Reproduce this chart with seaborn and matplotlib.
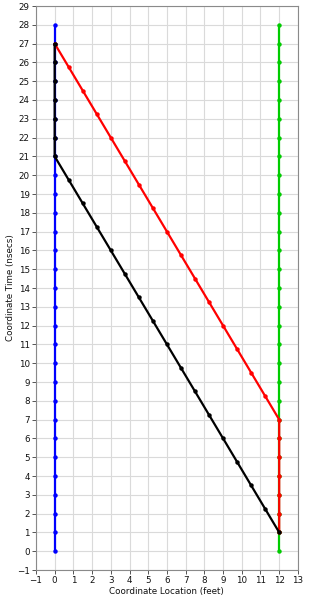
import numpy as np
import pandas as pd
import matplotlib
matplotlib.use("Agg")
import matplotlib.pyplot as plt
import seaborn as sns

# data
blue_x = [0] * 29
blue_y = list(range(0, 29))
green_x = [12] * 29
green_y = list(range(0, 29))

red_x = [12, 12, 12, 12, 12, 12, 12,
         11.25, 10.5, 9.75, 9, 8.25, 7.5, 6.75, 6, 5.25, 4.5, 3.75, 3, 2.25, 1.5, 0.75, 0]
red_y = [1, 2, 3, 4, 5, 6, 7,
         8.25, 9.5, 10.75, 12, 13.25, 14.5, 15.75, 17, 18.25, 19.5, 20.75, 22, 23.25, 24.5, 25.75, 27]

black_x = [12, 11.25, 10.5, 9.75, 9, 8.25, 7.5, 6.75, 6, 5.25, 4.5, 3.75, 3, 2.25, 1.5, 0.75, 0,
           0, 0, 0, 0, 0, 0]
black_y = [1, 2.25, 3.5, 4.75, 6, 7.25, 8.5, 9.75, 11, 12.25, 13.5, 14.75, 16, 17.25, 18.5, 19.75, 21,
           22, 23, 24, 25, 26, 27]

series = [("blue", blue_x, blue_y, "#0000ff"),
          ("green", green_x, green_y, "#00cc00"),
          ("red", red_x, red_y, "#ff0000"),
          ("black", black_x, black_y, "#000000")]

sns.set_style("whitegrid")
plt.rcParams['font.family'] = ['DejaVu Sans']

fig = plt.figure(figsize=(3.1, 6), dpi=100)
ax = fig.add_axes([0.116, 0.05, 0.845, 0.94])

for name, xs, ys, col in series:
    d = pd.DataFrame({"x": xs, "y": ys})
    sns.lineplot(data=d, x="x", y="y", sort=False, estimator=None, color=col,
                 lw=1.6, marker="o", markersize=3.2, markeredgewidth=0, ax=ax)

ax.set_xlim(-1, 13)
ax.set_ylim(-1, 29)
ax.set_xticks(np.arange(-1, 14, 1))
ax.set_yticks(np.arange(-1, 30, 1))
ax.grid(True, color="#dadada", lw=0.8)
for s in ax.spines.values():
    s.set_color("#8a8a8a")
    s.set_linewidth(0.8)
ax.tick_params(axis="both", labelsize=6.3, length=3, width=0.7, color="#555555",
               pad=1.5, labelcolor="#111111", left=True, bottom=True)
ax.set_xlabel("Coordinate Location (feet)", fontsize=6.3, labelpad=1, color="#111111")
ax.set_ylabel("Coordinate Time (nsecs)", fontsize=6.3, labelpad=1, color="#111111")

fig.savefig("out.png", dpi=100)
